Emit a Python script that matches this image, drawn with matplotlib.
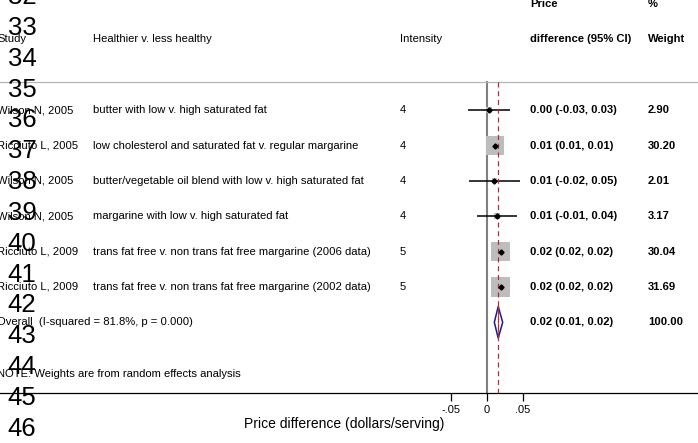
import matplotlib
matplotlib.use("Agg")
import matplotlib.pyplot as plt
import matplotlib.transforms as mtransforms
import numpy as np

plt.rcParams['font.family'] = ['Liberation Sans', 'DejaVu Sans']

# ---- data ----
studies = ["Wilson N, 2005", "Ricciuto L, 2005", "Wilson N, 2005",
           "Wilson N, 2005", "Ricciuto L, 2009", "Ricciuto L, 2009"]
comparisons = ["butter with low v. high saturated fat",
               "low cholesterol and saturated fat v. regular margarine",
               "butter/vegetable oil blend with low v. high saturated fat",
               "margarine with low v. high saturated fat",
               "trans fat free v. non trans fat free margarine (2006 data)",
               "trans fat free v. non trans fat free margarine (2002 data)"]
intensity = ["4", "4", "4", "4", "5", "5"]
est = [0.003, 0.0115, 0.0106, 0.0139, 0.0194, 0.0194]
ci_lo = [-0.026, 0.0108, -0.024, -0.013, 0.0188, 0.0188]
ci_hi = [0.032, 0.0122, 0.046, 0.0425, 0.0200, 0.0200]
ci_text = ["0.00 (-0.03, 0.03)", "0.01 (0.01, 0.01)", "0.01 (-0.02, 0.05)",
           "0.01 (-0.01, 0.04)", "0.02 (0.02, 0.02)", "0.02 (0.02, 0.02)"]
weights = [2.90, 30.20, 2.01, 3.17, 30.04, 31.69]
weight_text = ["2.90", "30.20", "2.01", "3.17", "30.04", "31.69"]

overall_est = 0.016
overall_lo = 0.0106
overall_hi = 0.0222
overall_label = "Overall  (I-squared = 81.8%, p = 0.000)"
overall_ci_text = "0.02 (0.01, 0.02)"
overall_weight_text = "100.00"

xticks = [-0.05, 0, 0.05]
xtick_labels = ["-.05", "0", ".05"]
line_numbers = list(range(32, 47))

W, H = 698, 443
fig = plt.figure(figsize=(W / 100, H / 100), dpi=100)

# axes spans full width; bottom spine is the x axis line
ax = fig.add_axes([0, (H - 393) / H, 1, 393 / H])
x0_px, px_per_unit = 486.7, 720.0
ax.set_xlim(-x0_px / px_per_unit, (W - x0_px) / px_per_unit)
ax.set_ylim(8.0, -3.116)
for s in ['top', 'left', 'right']:
    ax.spines[s].set_visible(False)
ax.spines['bottom'].set_linewidth(0.9)
ax.set_yticks([])
ax.set_xticks(xticks)
ax.set_xticklabels(xtick_labels)
ax.tick_params(axis='x', length=6, width=0.9, labelsize=8, pad=2.5)
ax.set_xlabel("Price difference (dollars/serving)", fontsize=10)
ax.xaxis.set_label_coords(344.5 / W, -24 / 393)

rows = np.arange(len(studies))
overall_row = len(studies)

# separator under header
ax.axhline(-0.8, color='#b4b4b4', lw=0.9)

# null line and overall dashed line
ax.plot([0, 0], [-0.8, 8.0], color='#808080', lw=1.5, zorder=1)
ax.plot([overall_est, overall_est], [-0.8, 8.0], color='#b0303a', lw=0.9,
        ls=(0, (4, 3)), zorder=4)

# boxes, CIs, point estimates
ax.scatter(est, rows, marker='s', s=[6.0 * w for w in weights],
           color='#bdbdbd', edgecolors='none', zorder=2)
ax.hlines(rows, ci_lo, ci_hi, color='black', lw=1.1, zorder=3)
ax.plot(est, rows, 'D', color='black', ms=2.6, zorder=5)

# overall diamond
dx = [overall_lo, overall_est, overall_hi, overall_est, overall_lo]
dy = [overall_row, overall_row - 0.45, overall_row, overall_row + 0.45, overall_row]
ax.fill(dx, dy, facecolor='white', edgecolor='#1c1c8a', lw=1.1, zorder=3)
ax.plot([overall_est, overall_est], [overall_row - 0.45, overall_row + 0.45],
        color='#b0303a', lw=0.9, ls=(0, (4, 3)), zorder=4)

# text columns
tr = mtransforms.blended_transform_factory(ax.transAxes, ax.transData)
fs = 8.1
col_study, col_comp, col_int, col_ci, col_w = -3 / W, 93 / W, 400 / W, 530 / W, 648 / W

ax.text(col_study, -2.01, "Study", transform=tr, fontsize=fs, va='center')
ax.text(col_comp, -2.01, "Healthier v. less healthy", transform=tr, fontsize=fs, va='center')
ax.text(col_int, -2.01, "Intensity", transform=tr, fontsize=fs, va='center')
ax.text(col_ci, -3.0, "Price", transform=tr, fontsize=fs, va='center', fontweight='bold')
ax.text(col_ci, -2.01, "difference (95% CI)", transform=tr, fontsize=fs, va='center', fontweight='bold')
ax.text(col_w, -3.0, "%", transform=tr, fontsize=fs, va='center', fontweight='bold')
ax.text(col_w, -2.01, "Weight", transform=tr, fontsize=fs, va='center', fontweight='bold')

for r, st, cp, it, ct, wt in zip(rows, studies, comparisons, intensity, ci_text, weight_text):
    ax.text(col_study, r, st, transform=tr, fontsize=fs, va='center')
    ax.text(col_comp, r, cp, transform=tr, fontsize=fs, va='center')
    ax.text(col_int, r, it, transform=tr, fontsize=fs, va='center')
    ax.text(col_ci, r, ct, transform=tr, fontsize=fs, va='center', fontweight='bold')
    ax.text(col_w, r, wt, transform=tr, fontsize=fs, va='center', fontweight='bold')

ax.text(col_study, overall_row, overall_label, transform=tr, fontsize=fs, va='center')
ax.text(col_ci, overall_row, overall_ci_text, transform=tr, fontsize=fs, va='center', fontweight='bold')
ax.text(col_w, overall_row, overall_weight_text, transform=tr, fontsize=fs, va='center', fontweight='bold')
ax.text(col_study, 7.47, "NOTE: Weights are from random effects analysis",
        transform=tr, fontsize=fs, va='center')

# overlaid line numbers
for i, n in enumerate(line_numbers):
    y_px = -3 + i * 30.85
    fig.text(22 / W, 1 - y_px / H, str(n), fontsize=18.5, ha='center', va='center')

fig.savefig("out.png", dpi=100)
